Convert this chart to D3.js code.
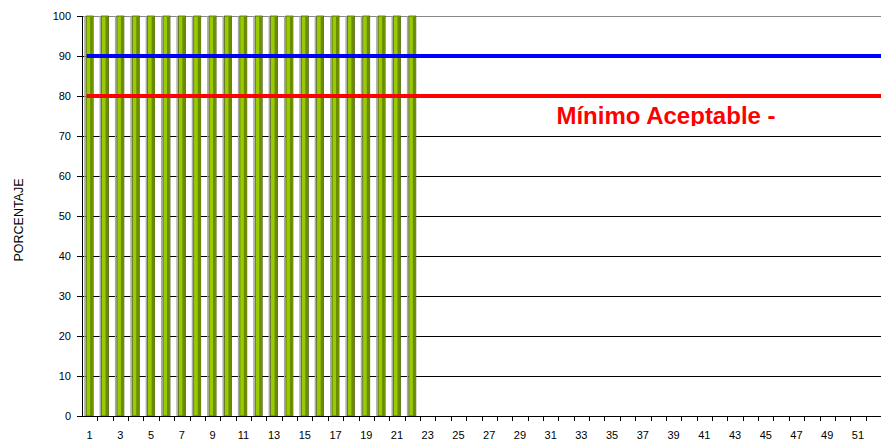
<!DOCTYPE html>
<html>
<head>
<meta charset="utf-8">
<script src="https://cdn.jsdelivr.net/npm/d3@7"></script>
<style>
  html, body { margin: 0; padding: 0; background: #fff; }
  svg { display: block; font-family: "Liberation Sans", Arial, sans-serif; }
</style>
</head>
<body>
<div id="chart"></div>
<script>
// categories 1..52, bars filled for the first 22
const categories = ['1','2','3','4','5','6','7','8','9','10','11','12','13','14','15','16','17','18','19','20',
  '21','22','23','24','25','26','27','28','29','30','31','32','33','34','35','36','37','38','39','40',
  '41','42','43','44','45','46','47','48','49','50','51','52'];
const barValues = [100,100,100,100,100,100,100,100,100,100,100,100,100,100,100,100,100,100,100,100,100,100];
const yTicks = [0,10,20,30,40,50,60,70,80,90,100];
const targetValue = 90;   // blue line
const minimumValue = 80;  // red line
const minimumLabel = 'Mínimo Aceptable -';
const yTitle = 'PORCENTAJE';

const W = 881, H = 443;
const M = { top: 16, right: 0, bottom: 27, left: 82 };
const iW = 799, iH = H - M.top - M.bottom;

const x = d3.scaleBand().domain(categories).range([0, iW]);
const y = d3.scaleLinear().domain([0, 100]).range([iH, 0]);

const svg = d3.select('#chart').append('svg')
  .attr('width', W).attr('height', H);
const g = svg.append('g').attr('transform', `translate(${M.left},${M.top})`);

// gridlines
g.append('g')
  .selectAll('line')
  .data(yTicks.filter(d => d > 0))
  .join('line')
  .attr('x1', 0).attr('x2', iW + 10)
  .attr('y1', d => Math.round(y(d)) + 0.5).attr('y2', d => Math.round(y(d)) + 0.5)
  .attr('stroke', d => d === 100 ? '#888' : '#000')
  .attr('stroke-width', 1);

// bars
const bw = 7;
const bars = g.append('g').selectAll('g')
  .data(barValues.map((v, i) => ({ cat: categories[i], v })))
  .join('g');

bars.append('rect')
  .attr('x', d => x(d.cat) + x.bandwidth() / 2 - bw / 2 - 2)
  .attr('y', d => y(d.v))
  .attr('width', 1.5)
  .attr('height', d => iH - y(d.v))
  .attr('fill', '#a8a8a8');

bars.append('rect')
  .attr('x', d => x(d.cat) + x.bandwidth() / 2 - bw / 2)
  .attr('y', d => y(d.v))
  .attr('width', bw)
  .attr('height', d => iH - y(d.v))
  .attr('fill', '#99cc00')
  .attr('stroke', '#3f4f08')
  .attr('stroke-width', 0.7);

bars.append('rect')
  .attr('x', d => x(d.cat) + x.bandwidth() / 2 + bw / 2 - 3)
  .attr('y', d => y(d.v) + 0.5)
  .attr('width', 2.6)
  .attr('height', d => iH - y(d.v) - 0.5)
  .attr('fill', '#6a8a00');

// reference lines
const lineStart = x(categories[0]) + x.bandwidth() / 2 - 3;
g.append('line')
  .attr('x1', lineStart).attr('x2', iW + 10)
  .attr('y1', y(targetValue)).attr('y2', y(targetValue))
  .attr('stroke', '#0000ff').attr('stroke-width', 4);
g.append('line')
  .attr('x1', lineStart).attr('x2', iW + 10)
  .attr('y1', y(minimumValue)).attr('y2', y(minimumValue))
  .attr('stroke', '#ff0000').attr('stroke-width', 4);

// label, clipped just above the 70 gridline like the original
svg.append('clipPath').attr('id', 'lblclip')
  .append('rect').attr('x', 0).attr('y', 0).attr('width', W).attr('height', M.top + y(70) - 10);
svg.append('text')
  .attr('clip-path', 'url(#lblclip)')
  .attr('x', 666)
  .attr('y', M.top + y(minimumValue) + 28)
  .attr('text-anchor', 'middle')
  .attr('font-size', 24)
  .attr('font-weight', 'bold')
  .attr('fill', '#ff0000')
  .text(minimumLabel);

// y axis
const yAxis = g.append('g')
  .call(d3.axisLeft(y).tickValues(yTicks).tickSize(5).tickPadding(6));
yAxis.select('.domain').attr('stroke', '#000').attr('d', `M0.5,0V${iH}`);
yAxis.selectAll('.tick line').attr('stroke', '#000');
yAxis.selectAll('.tick text').attr('fill', '#000').attr('font-size', 11)
  .attr('font-family', '"Liberation Sans", Arial, sans-serif');

// x axis: ticks on band boundaries, labels on odd categories
const xAxis = g.append('g').attr('transform', `translate(0,${iH})`);
xAxis.append('line')
  .attr('x1', 0).attr('x2', iW + 10)
  .attr('y1', 0.5).attr('y2', 0.5)
  .attr('stroke', '#000');
xAxis.selectAll('.xtick')
  .data(categories)
  .join('line')
  .attr('class', 'xtick')
  .attr('x1', d => Math.round(x(d) + x.bandwidth()) + 0.5)
  .attr('x2', d => Math.round(x(d) + x.bandwidth()) + 0.5)
  .attr('y1', 0).attr('y2', 5)
  .attr('stroke', '#000');
xAxis.selectAll('.xlab')
  .data(categories.filter((d, i) => i % 2 === 0))
  .join('text')
  .attr('class', 'xlab')
  .attr('x', d => x(d) + x.bandwidth() / 2)
  .attr('y', 23)
  .attr('text-anchor', 'middle')
  .attr('font-size', 11)
  .attr('fill', '#000')
  .text(d => d);

svg.append('text')
  .attr('transform', `translate(23,220) rotate(-90)`)
  .attr('text-anchor', 'middle')
  .attr('font-size', 12.5)
  .attr('fill', '#000')
  .text(yTitle);
</script>
</body>
</html>
